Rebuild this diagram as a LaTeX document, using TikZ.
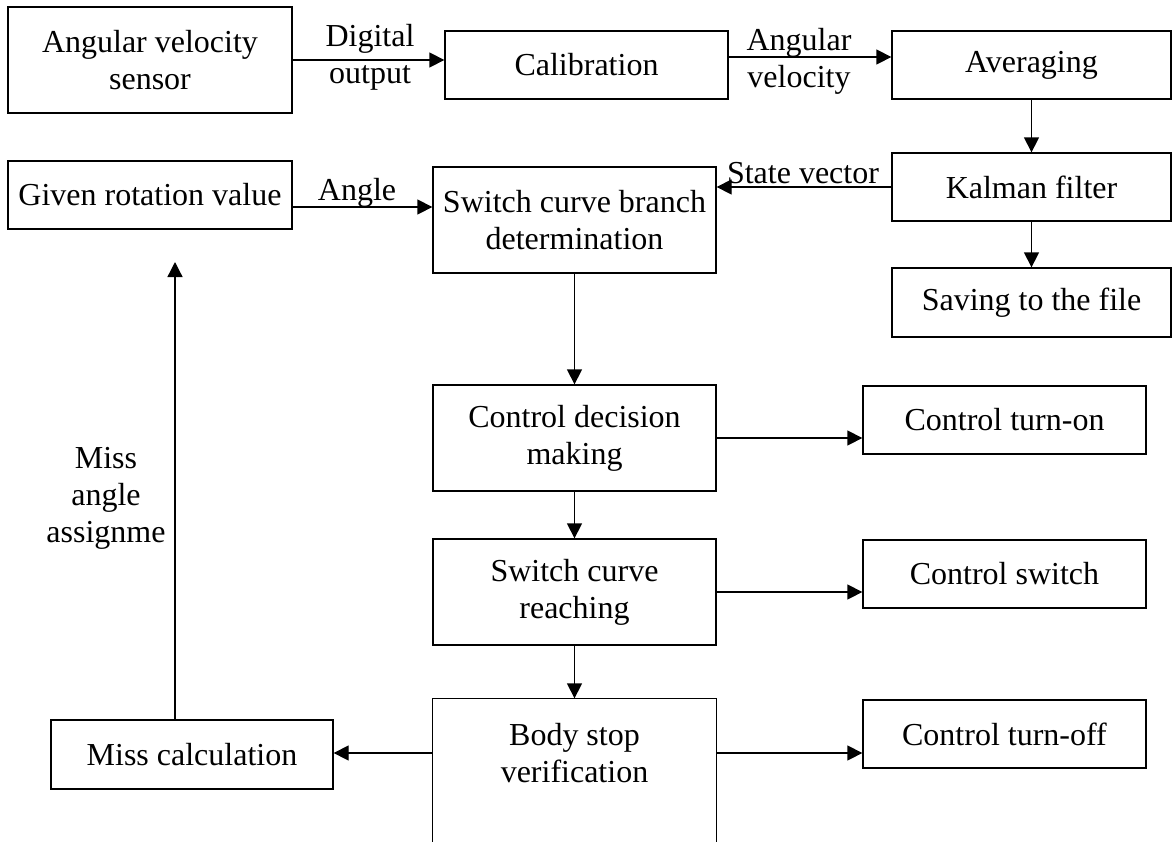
\documentclass[tikz,border=0pt]{standalone}
\usepackage{fontspec}
\setmainfont{Liberation Serif}
\usetikzlibrary{arrows.meta}
\begin{document}
\begin{tikzpicture}[x=0.5pt, y=-0.5pt, line width=0.65pt,
  font=\fontsize{16}{18.5}\selectfont,
  >={Triangle[length=7.5pt,width=7.5pt]},
  box/.style={draw, align=center, inner sep=0pt},
  lbl/.style={align=center, inner sep=0pt}]
\useasboundingbox (0,0) rectangle (1173,841);

\node[box, minimum width=142pt, minimum height=53pt] (sensor) at (150,60) {Angular velocity\\sensor};
\node[box, minimum width=141.5pt, minimum height=34pt] (calib) at (586.5,65) {Calibration};
\node[box, minimum width=139.5pt, minimum height=34pt] (avg) at (1031.5,65) {Averaging};
\node[box, minimum width=139.5pt, minimum height=34pt] (kalman) at (1031.5,187) {Kalman filter};
\node[box, minimum width=139.5pt, minimum height=34.5pt] (saving) at (1031.5,302.5) {Saving to the file};

\node[box, minimum width=142pt, minimum height=34pt] (given) at (150,195) {Given rotation value};
\node[box, minimum width=141.5pt, minimum height=53pt] (scb) at (574.5,220) {Switch curve branch\\determination};
\node[box, minimum width=141.5pt, minimum height=53pt] (cdm) at (574.5,438) {Control decision\\making};
\node[box, minimum width=141.5pt, minimum height=53pt] (scr) at (574.5,592) {Switch curve\\reaching};
\node[lbl, minimum width=141.5pt, minimum height=54pt] (body) at (574.5,753) {Body stop\\verification};
\draw ([yshift=-17pt]body.south west) |- (body.north east) -- ([yshift=-17pt]body.south east);

\node[box, minimum width=141.5pt, minimum height=34pt] (turnon) at (1004.5,420) {Control turn-on};
\node[box, minimum width=141.5pt, minimum height=34pt] (switch) at (1004.5,574) {Control switch};
\node[box, minimum width=141.5pt, minimum height=34pt] (turnoff) at (1004.5,734) {Control turn-off};
\node[box, minimum width=141pt, minimum height=34.5pt] (misscalc) at (192,754.5) {Miss calculation};
\coordinate (tip) at (175,262);

\node[lbl] (digital) at (370,57) {Digital\\output};
\node[lbl] (angvel) at (799,61) {Angular\\velocity};
\node[lbl, anchor=base] (angle) at (357,200) {Angle};
\node[lbl, anchor=base] (state) at (803,183) {State vector};
\node[lbl] (assign) at (106,498) {Miss\\angle\\assignme};

\draw[->] (sensor.east) -- (sensor.east -| calib.west);
\draw[->] ([yshift=4pt]calib.east) -- ([yshift=4pt]calib.east -| avg.west);
\draw[->] (avg) -- (kalman);
\draw[->] (kalman) -- (saving);
\draw[->] (kalman.west) -- (kalman.west -| scb.east);
\draw[->] ([yshift=-6pt]given.east) -- ([yshift=-6pt]given.east -| scb.west);
\draw[->] (scb) -- (cdm);
\draw[->] (cdm) -- (scr);
\draw[->] (scr.south) -- (body.north);
\draw[->] (cdm.east) -- (cdm.east -| turnon.west);
\draw[->] (scr.east) -- (scr.east -| switch.west);
\draw[->] (body.east) -- (body.east -| turnoff.west);
\draw[->] (body.west) -- (body.west -| misscalc.east);
\draw[->] (misscalc.north -| tip) -- (tip);
\end{tikzpicture}
\end{document}
